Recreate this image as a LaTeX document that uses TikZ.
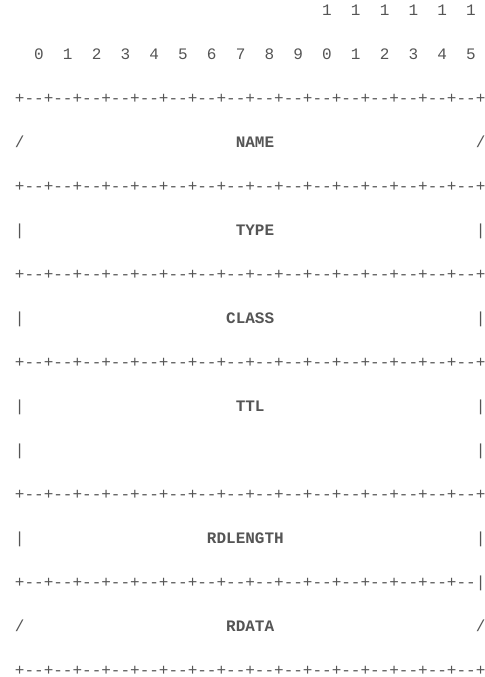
\documentclass[tikz,border=0pt]{standalone}
\usepackage{fontspec}
\newfontfamily\asciifont{Liberation Mono}
\definecolor{asciigray}{HTML}{555555}
\tikzset{
    ascii/.style={anchor=base west, inner sep=0pt, outer sep=0pt,
        text=asciigray, font=\asciifont\fontsize{12pt}{14pt}\selectfont},
    field/.style={ascii, font=\asciifont\fontsize{12pt}{14pt}\selectfont\bfseries},
}
\newcommand{\borderline}{+--+--+--+--+--+--+--+--+--+--+--+--+--+--+--+--+}
\newcommand{\borderbar}{+--+--+--+--+--+--+--+--+--+--+--+--+--+--+--+--|}
\begin{document}
\begin{tikzpicture}[x=7.2pt,y=-33pt]
    \useasboundingbox (-1.5625,-0.3636) rectangle (48.958,15.023);
    \foreach \i in {10,...,15} {
        \node[ascii] (hi\i) at (2+3*\i,0) {1};
    }
    \foreach \i in {0,...,15} {
        \pgfmathtruncatemacro{\d}{mod(\i,10)}
        \node[ascii] (bit\i) at (2+3*\i,1) {\d};
    }
    \foreach \r in {2,4,6,8,11,15} {
        \node[ascii] (sep\r) at (0,\r) {\borderline};
    }
    \node[ascii] (sep13) at (0,13) {\borderbar};
    \foreach \r in {3,14} {
        \node[ascii] (l\r) at (0,\r) {/};
        \node[ascii] (r\r) at (48,\r) {/};
    }
    \foreach \r in {5,7,9,10,12} {
        \node[ascii] (l\r) at (0,\r) {|};
        \node[ascii] (r\r) at (48,\r) {|};
    }
    \node[field] (name) at (23,3) {NAME};
    \node[field] (type) at (23,5) {TYPE};
    \node[field] (class) at (22,7) {CLASS};
    \node[field] (ttl) at (23,9) {TTL};
    \node[field] (rdlength) at (20,12) {RDLENGTH};
    \node[field] (rdata) at (22,14) {RDATA};
\end{tikzpicture}
\end{document}
